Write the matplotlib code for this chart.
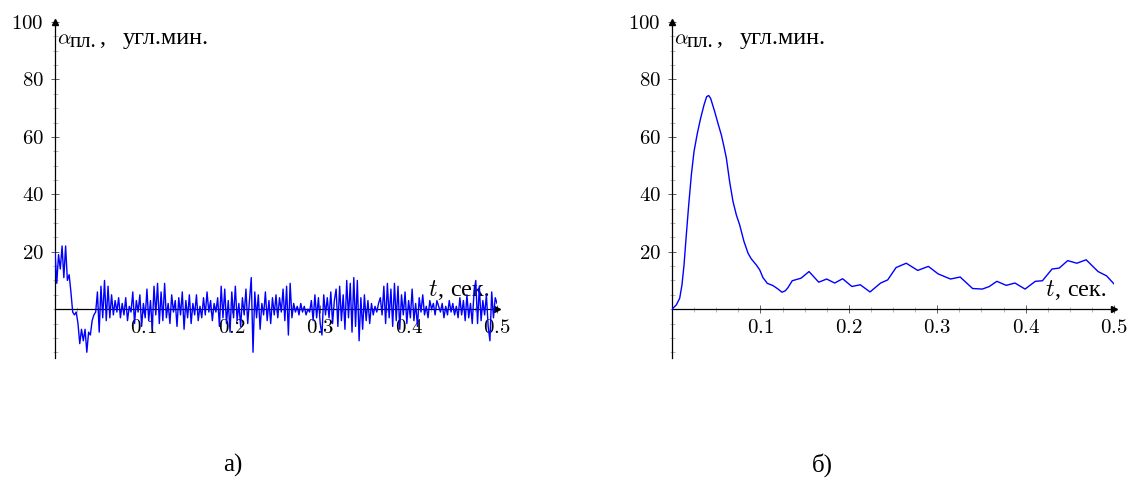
import numpy as np
import matplotlib
matplotlib.use('Agg')
import matplotlib.pyplot as plt
from matplotlib.ticker import FixedLocator, FuncFormatter

plt.rcParams['mathtext.fontset'] = 'cm'
plt.rcParams['font.family'] = ['Liberation Serif', 'DejaVu Serif']

#--- a) noisy response, sampled every 0.002 s
dt_a = 0.002
alpha_a = [
    20, 9, 19, 14, 22, 11, 22, 10, 12, 6, -1, -2, -1, -5, -12, -7, -11, -7, -15, -8, -9, -4, -2, -1, 6,
    -8, 8, -3, 10, -4, 8, -3, 5, -2, 3, -1, 4, -3, 2, -2, 4, -4, 1, -1, 6, -5, 3, -1, 5, -6,
    2, -3, 7, -4, 3, -7, 8, -2, 9, -5, 6, -4, 9, -3, 2, -5, 5, -1, 3, -6, 4, -2, 6, -7, 3,
    -3, 5, -5, 2, -2, 5, -4, 1, -3, 4, -2, 6, -1, 3, -4, 2, -1, 4, -6, 8, -3, 7, -5, 3, -8,
    6, -3, 8, -4, 2, -6, 4, -2, 7, -5, 3, 11, -15, 6, -3, 5, -7, 2, -2, 6, -4, 3, -5, 4, -2,
    5, -3, 4, -1, 7, -4, 8, -9, 9, -3, 2, -1, 1, -2, 2, -1, 1, -2, 0, -1, 3, -4, 5, -3, 4,
    -5, -9, 5, -2, 4, -3, 6, -5, 3, 7, -6, 8, -4, 5, -7, 10, -3, 9, -8, 11, -6, 10, -11, 4, -7,
    5, -4, 3, -5, 2, -2, 1, -1, 2, 4, -2, 8, -5, 9, -3, 7, -6, 9, -4, 8, -7, 5, -2, 6, -5,
    3, -3, 7, -4, 2, -6, 4, -1, 5, -2, 1, -3, 3, 0, 2, -2, 3, 1, -1, 2, -3, 1, -2, 3, -1,
    2, -2, 1, -3, 4, -2, 3, -4, 5, -3, 2, -5, 6, 10, -5, 8, -4, 3, -2, 5, -6, -11, 6, -3, 4, 2,
]
t_a = np.arange(len(alpha_a)) * dt_a

#--- б) smooth response
t_b = [0, 0.0049, 0.0087, 0.0113, 0.0136, 0.0162, 0.0189, 0.0219, 0.0249, 0.0287, 0.0324,
       0.0362, 0.0392, 0.0415, 0.0437, 0.0483, 0.052, 0.0558, 0.0588, 0.0615, 0.0652, 0.069,
       0.0728, 0.0765, 0.0814, 0.086, 0.0897, 0.0954, 0.0992, 0.1029, 0.1078, 0.1143, 0.12,
       0.1244, 0.1282, 0.1312, 0.136,
       0.146, 0.155, 0.166, 0.175, 0.184, 0.193, 0.2035, 0.213, 0.224, 0.236, 0.244, 0.2535,
       0.265, 0.278, 0.290, 0.301, 0.315, 0.326, 0.340, 0.351, 0.359, 0.3675, 0.378, 0.388,
       0.3994, 0.411, 0.419, 0.430, 0.438, 0.4476, 0.458, 0.4685, 0.482, 0.4916, 0.5]
alpha_b = [0, 1.5, 3.8, 8.5, 15.4, 25.9, 36.3, 46.8, 54.9, 61.3, 66.5,
           71.1, 74.0, 74.4, 73.4, 68.8, 64.7, 60.7, 56.6, 52.6, 44.4, 37.5,
           32.8, 29.4, 23.6, 19.5, 17.5, 15.4, 13.7, 11.0, 9.0, 8.2, 7.0,
           5.9, 6.4, 7.5, 9.9,
           10.8, 13.1, 9.4, 10.5, 9.1, 10.6, 7.9, 8.5, 6.0, 9.1, 10.2, 14.5,
           16.0, 13.5, 14.9, 12.3, 10.5, 11.2, 7.2, 7.0, 7.9, 9.7, 8.3, 9.1,
           7.0, 9.7, 9.9, 14.0, 14.3, 16.9, 16.0, 17.2, 13.1, 11.6, 8.8]

x_major = [0.1, 0.2, 0.3, 0.4, 0.5]
y_major = [20, 40, 60, 80, 100]

fig = plt.figure(figsize=(11.31, 4.86), dpi=100)

def put(ax, xy, dx, dy, s, size):
    ax.annotate(s, xy=xy, xycoords='data', xytext=(dx, dy), textcoords='offset pixels',
                ha='left', va='baseline', fontsize=size, annotation_clip=False)

def style_axis(ax):
    ax.set_xlim(0, 0.5)
    ax.set_ylim(-17, 100)
    for s in ['top', 'right']:
        ax.spines[s].set_visible(False)
    ax.spines['left'].set_position(('data', 0))
    ax.spines['bottom'].set_position(('data', 0))
    ax.spines['left'].set_linewidth(0.9)
    ax.spines['bottom'].set_linewidth(0.9)
    ax.xaxis.set_major_locator(FixedLocator(x_major))
    ax.xaxis.set_minor_locator(FixedLocator(np.arange(0.025, 0.5, 0.025)))
    ax.yaxis.set_major_locator(FixedLocator(y_major))
    ax.yaxis.set_minor_locator(FixedLocator(np.arange(-15, 100, 5)))
    ax.xaxis.set_major_formatter(FuncFormatter(lambda v, p: '$%.1f$' % v))
    ax.yaxis.set_major_formatter(FuncFormatter(lambda v, p: '$%d$' % v))
    ax.tick_params(which='major', direction='inout', length=6, width=0.6,
                   color='#444444', labelsize=15)
    ax.tick_params(axis='x', which='major', pad=4)
    ax.tick_params(axis='y', which='major', pad=5)
    ax.tick_params(which='minor', direction='inout', length=3.6, width=0.5,
                   color='#999999')
    ax.plot(1, 0, '>k', ms=4, transform=ax.get_yaxis_transform(), clip_on=False)
    ax.plot(0, 1, '^k', ms=4, transform=ax.get_xaxis_transform(), clip_on=False)
    # y label: alpha with subscript, then units
    put(ax, (0, 100), 2, -22, r'$\alpha$', 15)
    put(ax, (0, 100), 15, -25, 'пл.', 15)
    put(ax, (0, 100), 44, -22, ',', 17.5)
    put(ax, (0, 100), 68, -22, 'угл.мин.', 17.5)
    # x label
    put(ax, (0.422, 0), 0, 13, r'$t$', 17)
    put(ax, (0.422, 0), 9, 13, ',', 17.5)
    put(ax, (0.422, 0), 22, 13, 'сек.', 17.5)

ax1 = fig.add_axes([55/1131, 1-358/486, 442/1131, 336/486])
style_axis(ax1)
ax1.plot(t_a, alpha_a, color='#0000ff', lw=1.0, zorder=3)

ax2 = fig.add_axes([672/1131, 1-358/486, 442/1131, 336/486])
style_axis(ax2)
ax2.plot(t_b, alpha_b, color='#0000ff', lw=1.0, zorder=3)

fig.text(233/1131, 1-465/486, 'а)', fontsize=18, ha='center', va='center',
         family='Liberation Serif')
fig.text(822/1131, 1-465/486, 'б)', fontsize=18, ha='center', va='center',
         family='Liberation Serif')

fig.savefig('out.png', dpi=100)
